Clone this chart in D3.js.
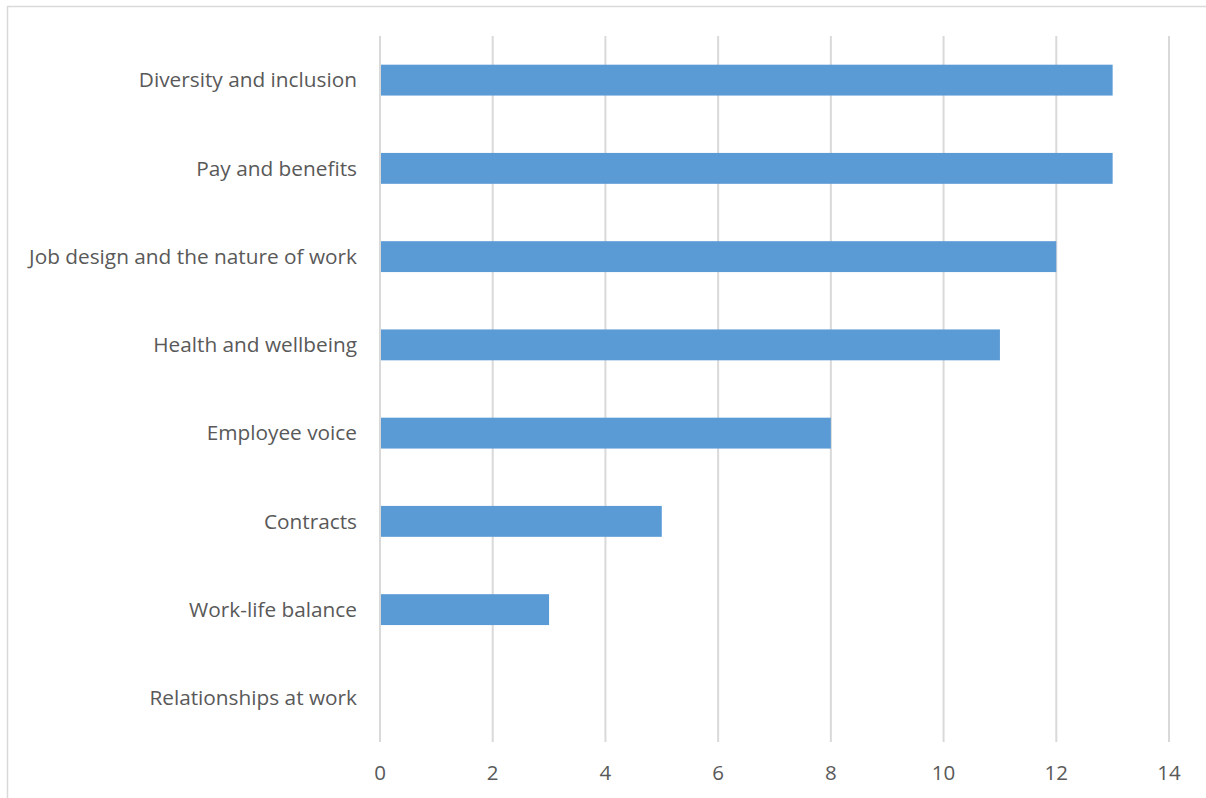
<!DOCTYPE html>
<html>
<head>
<meta charset="utf-8">
<script src="https://cdn.jsdelivr.net/npm/d3@7"></script>
<style>
	body { margin: 0; background: #fff; overflow: hidden; }
	svg { display: block; }
</style>
</head>
<body>
<div id="chart"></div>
<script>

// Chart data
var categories = ['Diversity and inclusion', 'Pay and benefits', 'Job design and the nature of work', 'Health and wellbeing', 'Employee voice', 'Contracts', 'Work-life balance', 'Relationships at work'];
var values = [13, 13, 12, 11, 8, 5, 3, 0];
var xTicks = [0, 2, 4, 6, 8, 10, 12, 14];

var width = 1206;
var height = 798;
var barColor = '#5b9bd5';
var gridColor = '#d9d9d9';
var textColor = '#595959';
var font = 'Open Sans, sans-serif';

var svg = d3.select('#chart').append('svg')
		.attr('width', width)
		.attr('height', height);

// Outer chart border (runs off the right and bottom edges)
svg.append('rect')
		.attr('x', 7.5)
		.attr('y', 6.5)
		.attr('width', width + 20)
		.attr('height', height + 20)
		.style('fill', 'none')
		.style('stroke', gridColor)
		.style('stroke-width', 1.5);

var x = d3.scaleLinear().domain([0, 14]).range([380, 1169]);
var y = d3.scaleBand().domain(categories).range([36, 742]).paddingInner(0.65).paddingOuter(0.325);

// Vertical gridlines
svg.append('g').selectAll('line').data(xTicks).enter().append('line')
		.attr('x1', function(d) { return x(d); })
		.attr('x2', function(d) { return x(d); })
		.attr('y1', 36)
		.attr('y2', 742)
		.style('stroke', gridColor)
		.style('stroke-width', 2);

// Bars
svg.append('g').selectAll('rect').data(values).enter().append('rect')
		.attr('x', x(0) + 1)
		.attr('y', function(d, i) { return y(categories[i]); })
		.attr('width', function(d) { return Math.max(0, x(d) - x(0) - 1); })
		.attr('height', y.bandwidth())
		.style('fill', barColor);

// X axis labels
svg.append('g').selectAll('text').data(xTicks).enter().append('text')
		.attr('x', function(d) { return x(d); })
		.attr('y', 773)
		.attr('dy', '0.35em')
		.attr('text-anchor', 'middle')
		.style('font-family', font)
		.style('font-size', '20.5px')
		.style('fill', textColor)
		.text(function(d) { return d; });

// Category labels
svg.append('g').selectAll('text').data(categories).enter().append('text')
		.attr('x', 357)
		.attr('y', function(d) { return y(d) + y.bandwidth() / 2; })
		.attr('dy', '0.35em')
		.attr('text-anchor', 'end')
		.style('font-family', font)
		.style('font-size', '20.8px')
		.style('fill', textColor)
		.text(function(d) { return d; });

</script>
</body>
</html>
